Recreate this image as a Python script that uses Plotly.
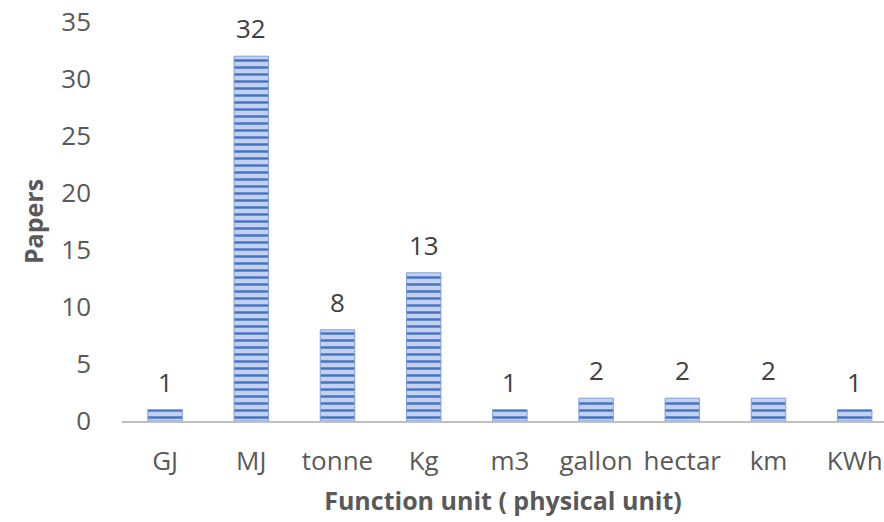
import plotly.graph_objects as go

# Papers per functional unit
units = ["GJ", "MJ", "tonne", "Kg", "m3", "gallon", "hectar", "km", "KWh"]
papers = [1, 32, 8, 13, 1, 2, 2, 2, 1]

FONT = "Open Sans"
TICK_COLOR = "#595959"

fig = go.Figure(
    go.Bar(
        x=units,
        y=papers,
        marker=dict(
            color="#C3D1EE",
            line=dict(color="#7F9FD6", width=1),
            pattern=dict(shape="-", fgcolor="#4472C4", bgcolor="#C3D1EE",
                         fgopacity=1, size=7, solidity=0.35),
        ),
    )
)

# value labels above each bar
for u, v in zip(units, papers):
    fig.add_annotation(
        x=u, y=v, text=str(v), showarrow=False,
        yanchor="bottom", yshift=8,
        font=dict(family=FONT, size=26, color="#404040"),
    )

fig.update_layout(
    width=884,
    height=522,
    margin=dict(l=122, r=0, t=22, b=101),
    plot_bgcolor="white",
    paper_bgcolor="white",
    bargap=0.6,
    showlegend=False,
    font=dict(family=FONT, size=26, color=TICK_COLOR),
)

fig.update_xaxes(
    range=[-0.5, 8.34],
    showline=True,
    linecolor="#BFBFBF",
    linewidth=2,
    ticks="",
    ticklabelstandoff=16,
    tickfont=dict(family=FONT, size=26, color=TICK_COLOR),
    title=dict(text="<b>Function unit ( physical unit)</b>",
               font=dict(family=FONT, size=25, color=TICK_COLOR), standoff=15),
)

fig.update_yaxes(
    range=[0, 35],
    dtick=5,
    showgrid=False,
    zeroline=False,
    showline=False,
    ticks="",
    ticklabelstandoff=30,
    tickfont=dict(family=FONT, size=26, color=TICK_COLOR),
    title=dict(text="<b>Papers</b>",
               font=dict(family=FONT, size=25, color=TICK_COLOR), standoff=10),
)

fig.write_html("out.html")
